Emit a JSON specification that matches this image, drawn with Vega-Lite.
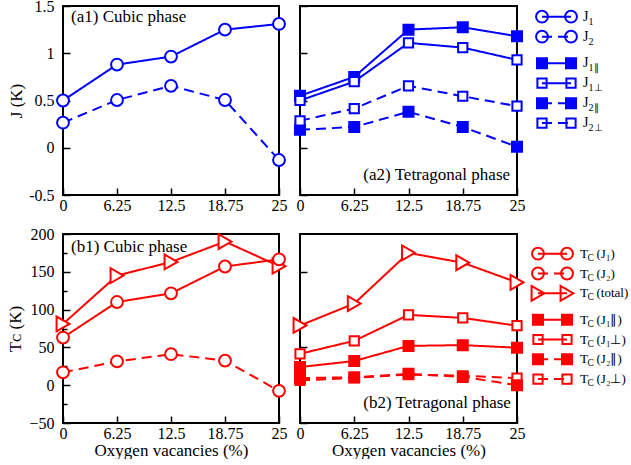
{
"$schema": "https://vega.github.io/schema/vega-lite/v6.json",
"background": "white",
"padding": {"left": 5, "top": -3, "right": 0, "bottom": 0},
"bounds": "flush",
"columns": 3,
"spacing": {"row": 39, "column": 21},
"config": {
  "view": {"stroke": "black", "strokeWidth": 2},
  "font": "Liberation Serif",
  "axis": {"domain": false, "grid": false, "labelFont": "Liberation Serif", "labelFontSize": 16, "labelColor": "black", "tickColor": "black", "tickWidth": 1.5, "titleFont": "Liberation Serif", "titleFontSize": 17, "titleFontWeight": "normal", "titleColor": "black", "labelOverlap": false, "labelFlush": false}
},
"datasets": {
  "main": [
    {"panel":"a1","series":"J1","x":0,"y":0.5},{"panel":"a1","series":"J1","x":6.25,"y":0.88},{"panel":"a1","series":"J1","x":12.5,"y":0.965},{"panel":"a1","series":"J1","x":18.75,"y":1.25},{"panel":"a1","series":"J1","x":25,"y":1.31},
    {"panel":"a1","series":"J2","x":0,"y":0.265},{"panel":"a1","series":"J2","x":6.25,"y":0.505},{"panel":"a1","series":"J2","x":12.5,"y":0.655},{"panel":"a1","series":"J2","x":18.75,"y":0.505},{"panel":"a1","series":"J2","x":25,"y":-0.13},
    {"panel":"a2","series":"J1par","x":0,"y":0.55},{"panel":"a2","series":"J1par","x":6.25,"y":0.75},{"panel":"a2","series":"J1par","x":12.5,"y":1.25},{"panel":"a2","series":"J1par","x":18.75,"y":1.275},{"panel":"a2","series":"J1par","x":25,"y":1.18},
    {"panel":"a2","series":"J1perp","x":0,"y":0.5},{"panel":"a2","series":"J1perp","x":6.25,"y":0.7},{"panel":"a2","series":"J1perp","x":12.5,"y":1.11},{"panel":"a2","series":"J1perp","x":18.75,"y":1.06},{"panel":"a2","series":"J1perp","x":25,"y":0.93},
    {"panel":"a2","series":"J2par","x":0,"y":0.19},{"panel":"a2","series":"J2par","x":6.25,"y":0.22},{"panel":"a2","series":"J2par","x":12.5,"y":0.38},{"panel":"a2","series":"J2par","x":18.75,"y":0.22},{"panel":"a2","series":"J2par","x":25,"y":0.01},
    {"panel":"a2","series":"J2perp","x":0,"y":0.285},{"panel":"a2","series":"J2perp","x":6.25,"y":0.415},{"panel":"a2","series":"J2perp","x":12.5,"y":0.655},{"panel":"a2","series":"J2perp","x":18.75,"y":0.545},{"panel":"a2","series":"J2perp","x":25,"y":0.44},
    {"panel":"b1","series":"Tctot","x":0,"y":81},{"panel":"b1","series":"Tctot","x":6.25,"y":145},{"panel":"b1","series":"Tctot","x":12.5,"y":163},{"panel":"b1","series":"Tctot","x":18.75,"y":190},{"panel":"b1","series":"Tctot","x":25,"y":157.5},
    {"panel":"b1","series":"TcJ1","x":0,"y":63},{"panel":"b1","series":"TcJ1","x":6.25,"y":110},{"panel":"b1","series":"TcJ1","x":12.5,"y":121.5},{"panel":"b1","series":"TcJ1","x":18.75,"y":157},{"panel":"b1","series":"TcJ1","x":25,"y":166.5},
    {"panel":"b1","series":"TcJ2","x":0,"y":17},{"panel":"b1","series":"TcJ2","x":6.25,"y":31.5},{"panel":"b1","series":"TcJ2","x":12.5,"y":41},{"panel":"b1","series":"TcJ2","x":18.75,"y":32.5},{"panel":"b1","series":"TcJ2","x":25,"y":-7.5},
    {"panel":"b2","series":"Tctot","x":0,"y":79},{"panel":"b2","series":"Tctot","x":6.25,"y":108},{"panel":"b2","series":"Tctot","x":12.5,"y":175},{"panel":"b2","series":"Tctot","x":18.75,"y":162},{"panel":"b2","series":"Tctot","x":25,"y":136},
    {"panel":"b2","series":"TcJ1perp","x":0,"y":41.5},{"panel":"b2","series":"TcJ1perp","x":6.25,"y":58.7},{"panel":"b2","series":"TcJ1perp","x":12.5,"y":93},{"panel":"b2","series":"TcJ1perp","x":18.75,"y":89},{"panel":"b2","series":"TcJ1perp","x":25,"y":78.7},
    {"panel":"b2","series":"TcJ1par","x":0,"y":24},{"panel":"b2","series":"TcJ1par","x":6.25,"y":32},{"panel":"b2","series":"TcJ1par","x":12.5,"y":52},{"panel":"b2","series":"TcJ1par","x":18.75,"y":53},{"panel":"b2","series":"TcJ1par","x":25,"y":49.6},
    {"panel":"b2","series":"TcJ2perp","x":0,"y":6.4},{"panel":"b2","series":"TcJ2perp","x":6.25,"y":9.7},{"panel":"b2","series":"TcJ2perp","x":12.5,"y":14},{"panel":"b2","series":"TcJ2perp","x":18.75,"y":12.5},{"panel":"b2","series":"TcJ2perp","x":25,"y":9.5},
    {"panel":"b2","series":"TcJ2par","x":0,"y":9.5},{"panel":"b2","series":"TcJ2par","x":6.25,"y":10.4},{"panel":"b2","series":"TcJ2par","x":12.5,"y":15},{"panel":"b2","series":"TcJ2par","x":18.75,"y":11},{"panel":"b2","series":"TcJ2par","x":25,"y":0}
  ],
  "legA": [
    {"series":"J1","main":"J","sub":"1"},
    {"series":"J2","main":"J","sub":"2"},
    {"series":"J1par","main":"J","sub":"1∥"},
    {"series":"J1perp","main":"J","sub":"1⊥"},
    {"series":"J2par","main":"J","sub":"2∥"},
    {"series":"J2perp","main":"J","sub":"2⊥"}
  ],
  "legB": [
    {"series":"TcJ1","main":"T","sub":"C","rest":"(J₁)"},
    {"series":"TcJ2","main":"T","sub":"C","rest":"(J₂)"},
    {"series":"Tctot","main":"T","sub":"C","rest":"(total)"},
    {"series":"TcJ1par","main":"T","sub":"C","rest":"(J₁∥)"},
    {"series":"TcJ1perp","main":"T","sub":"C","rest":"(J₁⊥)"},
    {"series":"TcJ2par","main":"T","sub":"C","rest":"(J₂∥)"},
    {"series":"TcJ2perp","main":"T","sub":"C","rest":"(J₂⊥)"}
  ]
},
"concat": [
   {"width": 216, "height": 189,
    "layer": [
     {"data": {"name": "main"}, "transform": [{"filter": "datum.panel === 'a1'"}],
      "mark": {"type": "line", "strokeWidth": 2},
      "encoding": {
        "x": {"field": "x", "type": "quantitative", "scale": {"domain": [0, 25], "nice": false, "zero": false},
              "axis": {"values": [0,3.125,6.25,9.375,12.5,15.625,18.75,21.875,25], "labelExpr": "datum.value % 6.25 === 0 ? toString(datum.value) : ''", "labelFontSize": {"condition": {"test": "datum.value % 6.25 !== 0", "value": 0}, "value": 16}, "tickSize": {"condition": {"test": "datum.value % 6.25 !== 0", "value": -4}, "value": -7}, "labelPadding": 9, "labelOverlap": false, "title": null}},
        "y": {"field": "y", "type": "quantitative", "scale": {"domain": [-0.5, 1.5], "nice": false, "zero": false},
              "axis": {"values": [-0.5,-0.25,0,0.25,0.5,0.75,1,1.25,1.5], "labelExpr": "datum.value % 0.5 === 0 ? toString(datum.value) : ''", "labelFontSize": {"condition": {"test": "datum.value % 0.5 !== 0", "value": 0}, "value": 16}, "tickSize": {"condition": {"test": "datum.value % 0.5 !== 0", "value": -4}, "value": -7}, "labelPadding": 16, "labelOverlap": false, "title": "J (K)", "titlePadding": 3.5}},
        "stroke": {"field": "series", "type": "nominal", "legend": null, "scale": {"domain": ["J1","J2","J1par","J1perp","J2par","J2perp","TcJ1","TcJ2","Tctot","TcJ1par","TcJ1perp","TcJ2par","TcJ2perp"], "range": ["#0000ff","#0000ff","#0000ff","#0000ff","#0000ff","#0000ff","#ff0000","#ff0000","#ff0000","#ff0000","#ff0000","#ff0000","#ff0000"]}},
        "strokeDash": {"field": "series", "type": "nominal", "legend": null, "scale": {"domain": ["J1","J2","J1par","J1perp","J2par","J2perp","TcJ1","TcJ2","Tctot","TcJ1par","TcJ1perp","TcJ2par","TcJ2perp"], "range": [[1,0],[10,6],[1,0],[1,0],[10,6],[10,6],[1,0],[10,6],[1,0],[1,0],[1,0],[10,6],[10,6]]}}
      }},
     {"data": {"name": "main"}, "transform": [{"filter": "datum.panel === 'a1'"}],
      "mark": {"type": "point", "strokeWidth": 2, "opacity": 1, "fillOpacity": 1},
      "encoding": {
        "x": {"field": "x", "type": "quantitative"},
        "y": {"field": "y", "type": "quantitative"},
        "stroke": {"field": "series", "type": "nominal", "legend": null, "scale": {"domain": ["J1","J2","J1par","J1perp","J2par","J2perp","TcJ1","TcJ2","Tctot","TcJ1par","TcJ1perp","TcJ2par","TcJ2perp"], "range": ["#0000ff","#0000ff","#0000ff","#0000ff","#0000ff","#0000ff","#ff0000","#ff0000","#ff0000","#ff0000","#ff0000","#ff0000","#ff0000"]}},
        "fill": {"field": "series", "type": "nominal", "legend": null, "scale": {"domain": ["J1","J2","J1par","J1perp","J2par","J2perp","TcJ1","TcJ2","Tctot","TcJ1par","TcJ1perp","TcJ2par","TcJ2perp"], "range": ["white","white","#0000ff","white","#0000ff","white","white","white","white","#ff0000","white","#ff0000","white"]}},
        "shape": {"field": "series", "type": "nominal", "legend": null, "scale": {"domain": ["J1","J2","J1par","J1perp","J2par","J2perp","TcJ1","TcJ2","Tctot","TcJ1par","TcJ1perp","TcJ2par","TcJ2perp"], "range": ["circle","circle","square","square","square","square","circle","circle","triangle-right","square","square","square","square"]}},
        "size": {"field": "series", "type": "nominal", "legend": null, "scale": {"type": "ordinal", "domain": ["J1","J2","J1par","J1perp","J2par","J2perp","TcJ1","TcJ2","Tctot","TcJ1par","TcJ1perp","TcJ2par","TcJ2perp"], "range": [140,140,100,85,100,85,140,140,220,100,85,100,85]}}
      }},
     {"data": {"values": [{"label": "(a1) Cubic phase"}]},
      "mark": {"type": "text", "align": "left", "baseline": "middle", "font": "Liberation Serif", "fontSize": 17, "color": "black"},
      "encoding": {"x": {"datum": 0.93, "type": "quantitative"}, "y": {"datum": 1.387, "type": "quantitative"}, "text": {"field": "label"}}}
    ]},
   {"width": 217, "height": 189,
    "layer": [
     {"data": {"name": "main"}, "transform": [{"filter": "datum.panel === 'a2'"}],
      "mark": {"type": "line", "strokeWidth": 2},
      "encoding": {
        "x": {"field": "x", "type": "quantitative", "scale": {"domain": [0, 25], "nice": false, "zero": false},
              "axis": {"values": [0,3.125,6.25,9.375,12.5,15.625,18.75,21.875,25], "labelExpr": "datum.value % 6.25 === 0 ? toString(datum.value) : ''", "labelFontSize": {"condition": {"test": "datum.value % 6.25 !== 0", "value": 0}, "value": 16}, "tickSize": {"condition": {"test": "datum.value % 6.25 !== 0", "value": -4}, "value": -7}, "labelPadding": 9, "labelOverlap": false, "title": null}},
        "y": {"field": "y", "type": "quantitative", "scale": {"domain": [-0.5, 1.5], "nice": false, "zero": false},
              "axis": {"values": [-0.5,-0.25,0,0.25,0.5,0.75,1,1.25,1.5], "labels": false, "tickSize": {"condition": {"test": "datum.value % 0.5 !== 0", "value": -4}, "value": -7}, "title": null}},
        "stroke": {"field": "series", "type": "nominal", "legend": null, "scale": {"domain": ["J1","J2","J1par","J1perp","J2par","J2perp","TcJ1","TcJ2","Tctot","TcJ1par","TcJ1perp","TcJ2par","TcJ2perp"], "range": ["#0000ff","#0000ff","#0000ff","#0000ff","#0000ff","#0000ff","#ff0000","#ff0000","#ff0000","#ff0000","#ff0000","#ff0000","#ff0000"]}},
        "strokeDash": {"field": "series", "type": "nominal", "legend": null, "scale": {"domain": ["J1","J2","J1par","J1perp","J2par","J2perp","TcJ1","TcJ2","Tctot","TcJ1par","TcJ1perp","TcJ2par","TcJ2perp"], "range": [[1,0],[10,6],[1,0],[1,0],[10,6],[10,6],[1,0],[10,6],[1,0],[1,0],[1,0],[10,6],[10,6]]}}
      }},
     {"data": {"name": "main"}, "transform": [{"filter": "datum.panel === 'a2'"}],
      "mark": {"type": "point", "strokeWidth": 2, "opacity": 1, "fillOpacity": 1},
      "encoding": {
        "x": {"field": "x", "type": "quantitative"},
        "y": {"field": "y", "type": "quantitative"},
        "stroke": {"field": "series", "type": "nominal", "legend": null, "scale": {"domain": ["J1","J2","J1par","J1perp","J2par","J2perp","TcJ1","TcJ2","Tctot","TcJ1par","TcJ1perp","TcJ2par","TcJ2perp"], "range": ["#0000ff","#0000ff","#0000ff","#0000ff","#0000ff","#0000ff","#ff0000","#ff0000","#ff0000","#ff0000","#ff0000","#ff0000","#ff0000"]}},
        "fill": {"field": "series", "type": "nominal", "legend": null, "scale": {"domain": ["J1","J2","J1par","J1perp","J2par","J2perp","TcJ1","TcJ2","Tctot","TcJ1par","TcJ1perp","TcJ2par","TcJ2perp"], "range": ["white","white","#0000ff","white","#0000ff","white","white","white","white","#ff0000","white","#ff0000","white"]}},
        "shape": {"field": "series", "type": "nominal", "legend": null, "scale": {"domain": ["J1","J2","J1par","J1perp","J2par","J2perp","TcJ1","TcJ2","Tctot","TcJ1par","TcJ1perp","TcJ2par","TcJ2perp"], "range": ["circle","circle","square","square","square","square","circle","circle","triangle-right","square","square","square","square"]}},
        "size": {"field": "series", "type": "nominal", "legend": null, "scale": {"type": "ordinal", "domain": ["J1","J2","J1par","J1perp","J2par","J2perp","TcJ1","TcJ2","Tctot","TcJ1par","TcJ1perp","TcJ2par","TcJ2perp"], "range": [140,140,100,85,100,85,140,140,220,100,85,100,85]}}
      }},
     {"data": {"values": [{"label": "(a2) Tetragonal phase"}]},
      "mark": {"type": "text", "align": "right", "baseline": "middle", "font": "Liberation Serif", "fontSize": 17, "color": "black"},
      "encoding": {"x": {"datum": 24.2, "type": "quantitative"}, "y": {"datum": -0.288, "type": "quantitative"}, "text": {"field": "label"}}}
    ]},
  {"width": 40, "height": 189, "view": {"stroke": null},
   "data": {"name": "legA"},
   "encoding": {"y": {"field": "series", "type": "nominal", "axis": null, "scale": {"type": "point", "padding": 0, "range": [10.7, 117.1], "domain": ["J1","sa1","sa2","J2","sa3","sa4","sa5","J1par","sa6","sa7","J1perp","sa8","sa9","J2par","sa10","sa11","J2perp"]}}},
   "layer": [
    {"mark": {"type": "point", "strokeWidth": 2, "opacity": 1, "fillOpacity": 1},
     "encoding": {
       "x": {"datum": 0, "type": "quantitative", "scale": {"domain": [0, 1], "range": [4, 33], "nice": false, "zero": false}, "axis": null},
       "stroke": {"field": "series", "type": "nominal", "legend": null, "scale": {"domain": ["J1","J2","J1par","J1perp","J2par","J2perp","TcJ1","TcJ2","Tctot","TcJ1par","TcJ1perp","TcJ2par","TcJ2perp"], "range": ["#0000ff","#0000ff","#0000ff","#0000ff","#0000ff","#0000ff","#ff0000","#ff0000","#ff0000","#ff0000","#ff0000","#ff0000","#ff0000"]}},
       "fill": {"field": "series", "type": "nominal", "legend": null, "scale": {"domain": ["J1","J2","J1par","J1perp","J2par","J2perp","TcJ1","TcJ2","Tctot","TcJ1par","TcJ1perp","TcJ2par","TcJ2perp"], "range": ["white","white","#0000ff","white","#0000ff","white","white","white","white","#ff0000","white","#ff0000","white"]}},
       "shape": {"field": "series", "type": "nominal", "legend": null, "scale": {"domain": ["J1","J2","J1par","J1perp","J2par","J2perp","TcJ1","TcJ2","Tctot","TcJ1par","TcJ1perp","TcJ2par","TcJ2perp"], "range": ["circle","circle","square","square","square","square","circle","circle","triangle-right","square","square","square","square"]}},
       "size": {"field": "series", "type": "nominal", "legend": null, "scale": {"type": "ordinal", "domain": ["J1","J2","J1par","J1perp","J2par","J2perp","TcJ1","TcJ2","Tctot","TcJ1par","TcJ1perp","TcJ2par","TcJ2perp"], "range": [140,140,100,85,100,85,140,140,220,100,85,100,85]}}
     }},
    {"mark": {"type": "point", "strokeWidth": 2, "opacity": 1, "fillOpacity": 1},
     "encoding": {
       "x": {"datum": 1, "type": "quantitative"},
       "stroke": {"field": "series", "type": "nominal", "legend": null, "scale": {"domain": ["J1","J2","J1par","J1perp","J2par","J2perp","TcJ1","TcJ2","Tctot","TcJ1par","TcJ1perp","TcJ2par","TcJ2perp"], "range": ["#0000ff","#0000ff","#0000ff","#0000ff","#0000ff","#0000ff","#ff0000","#ff0000","#ff0000","#ff0000","#ff0000","#ff0000","#ff0000"]}},
       "fill": {"field": "series", "type": "nominal", "legend": null, "scale": {"domain": ["J1","J2","J1par","J1perp","J2par","J2perp","TcJ1","TcJ2","Tctot","TcJ1par","TcJ1perp","TcJ2par","TcJ2perp"], "range": ["white","white","#0000ff","white","#0000ff","white","white","white","white","#ff0000","white","#ff0000","white"]}},
       "shape": {"field": "series", "type": "nominal", "legend": null, "scale": {"domain": ["J1","J2","J1par","J1perp","J2par","J2perp","TcJ1","TcJ2","Tctot","TcJ1par","TcJ1perp","TcJ2par","TcJ2perp"], "range": ["circle","circle","square","square","square","square","circle","circle","triangle-right","square","square","square","square"]}},
       "size": {"field": "series", "type": "nominal", "legend": null, "scale": {"type": "ordinal", "domain": ["J1","J2","J1par","J1perp","J2par","J2perp","TcJ1","TcJ2","Tctot","TcJ1par","TcJ1perp","TcJ2par","TcJ2perp"], "range": [140,140,100,85,100,85,140,140,220,100,85,100,85]}}
     }},
    {"mark": {"type": "rule", "strokeWidth": 2},
     "encoding": {
       "x": {"datum": 0, "type": "quantitative"}, "x2": {"datum": 1},
       "stroke": {"field": "series", "type": "nominal", "legend": null, "scale": {"domain": ["J1","J2","J1par","J1perp","J2par","J2perp","TcJ1","TcJ2","Tctot","TcJ1par","TcJ1perp","TcJ2par","TcJ2perp"], "range": ["#0000ff","#0000ff","#0000ff","#0000ff","#0000ff","#0000ff","#ff0000","#ff0000","#ff0000","#ff0000","#ff0000","#ff0000","#ff0000"]}},
       "strokeDash": {"field": "series", "type": "nominal", "legend": null, "scale": {"domain": ["J1","J2","J1par","J1perp","J2par","J2perp","TcJ1","TcJ2","Tctot","TcJ1par","TcJ1perp","TcJ2par","TcJ2perp"], "range": [[1,0],[10,6],[1,0],[1,0],[10,6],[10,6],[1,0],[10,6],[1,0],[1,0],[1,0],[10,6],[10,6]]}}
     }},
    {"mark": {"type": "text", "align": "left", "baseline": "middle", "dx": 12, "font": "Liberation Serif", "fontSize": 14, "color": "black"},
     "encoding": {"x": {"datum": 1, "type": "quantitative"}, "text": {"field": "main"}}},
    {"mark": {"type": "text", "align": "left", "baseline": "middle", "dx": 17.5, "dy": 5, "font": "Liberation Serif", "fontSize": 10, "color": "black"},
     "encoding": {"x": {"datum": 1, "type": "quantitative"}, "text": {"field": "sub"}}}
   ]},
   {"width": 216, "height": 189,
    "resolve": {"axis": {"y": "independent"}},
    "layer": [
     {"data": {"name": "main"}, "transform": [{"filter": "datum.panel === 'b1'"}],
      "mark": {"type": "line", "strokeWidth": 2},
      "encoding": {
        "x": {"field": "x", "type": "quantitative", "scale": {"domain": [0, 25], "nice": false, "zero": false},
              "axis": {"values": [0,3.125,6.25,9.375,12.5,15.625,18.75,21.875,25], "labelExpr": "datum.value % 6.25 === 0 ? toString(datum.value) : ''", "labelFontSize": {"condition": {"test": "datum.value % 6.25 !== 0", "value": 0}, "value": 16}, "tickSize": {"condition": {"test": "datum.value % 6.25 !== 0", "value": -4}, "value": -7}, "labelPadding": 9, "labelOverlap": false, "title": "Oxygen vacancies (%)", "titlePadding": 1}},
        "y": {"field": "y", "type": "quantitative", "scale": {"domain": [-50, 200], "nice": false, "zero": false},
              "axis": {"orient": "left", "values": [-50,0,50,100,150,200], "tickSize": -7, "labelPadding": 16, "labelOverlap": false, "title": "Tᴄ (K)", "titlePadding": 4.5}},
        "stroke": {"field": "series", "type": "nominal", "legend": null, "scale": {"domain": ["J1","J2","J1par","J1perp","J2par","J2perp","TcJ1","TcJ2","Tctot","TcJ1par","TcJ1perp","TcJ2par","TcJ2perp"], "range": ["#0000ff","#0000ff","#0000ff","#0000ff","#0000ff","#0000ff","#ff0000","#ff0000","#ff0000","#ff0000","#ff0000","#ff0000","#ff0000"]}},
        "strokeDash": {"field": "series", "type": "nominal", "legend": null, "scale": {"domain": ["J1","J2","J1par","J1perp","J2par","J2perp","TcJ1","TcJ2","Tctot","TcJ1par","TcJ1perp","TcJ2par","TcJ2perp"], "range": [[1,0],[10,6],[1,0],[1,0],[10,6],[10,6],[1,0],[10,6],[1,0],[1,0],[1,0],[10,6],[10,6]]}}
      }},
     {"data": {"name": "main"}, "transform": [{"filter": "datum.panel === 'b1'"}],
      "mark": {"type": "point", "strokeWidth": 2, "opacity": 1, "fillOpacity": 1},
      "encoding": {
        "x": {"field": "x", "type": "quantitative"},
        "y": {"field": "y", "type": "quantitative", "axis": {"orient": "left", "values": [-25,25,75,125,175], "labels": false, "tickSize": -4, "title": null}},
        "stroke": {"field": "series", "type": "nominal", "legend": null, "scale": {"domain": ["J1","J2","J1par","J1perp","J2par","J2perp","TcJ1","TcJ2","Tctot","TcJ1par","TcJ1perp","TcJ2par","TcJ2perp"], "range": ["#0000ff","#0000ff","#0000ff","#0000ff","#0000ff","#0000ff","#ff0000","#ff0000","#ff0000","#ff0000","#ff0000","#ff0000","#ff0000"]}},
        "fill": {"field": "series", "type": "nominal", "legend": null, "scale": {"domain": ["J1","J2","J1par","J1perp","J2par","J2perp","TcJ1","TcJ2","Tctot","TcJ1par","TcJ1perp","TcJ2par","TcJ2perp"], "range": ["white","white","#0000ff","white","#0000ff","white","white","white","white","#ff0000","white","#ff0000","white"]}},
        "shape": {"field": "series", "type": "nominal", "legend": null, "scale": {"domain": ["J1","J2","J1par","J1perp","J2par","J2perp","TcJ1","TcJ2","Tctot","TcJ1par","TcJ1perp","TcJ2par","TcJ2perp"], "range": ["circle","circle","square","square","square","square","circle","circle","triangle-right","square","square","square","square"]}},
        "size": {"field": "series", "type": "nominal", "legend": null, "scale": {"type": "ordinal", "domain": ["J1","J2","J1par","J1perp","J2par","J2perp","TcJ1","TcJ2","Tctot","TcJ1par","TcJ1perp","TcJ2par","TcJ2perp"], "range": [140,140,100,85,100,85,140,140,220,100,85,100,85]}}
      }},
     {"data": {"values": [{"label": "(b1) Cubic phase"}]},
      "mark": {"type": "text", "align": "left", "baseline": "middle", "font": "Liberation Serif", "fontSize": 17, "color": "black"},
      "encoding": {"x": {"datum": 0.93, "type": "quantitative"}, "y": {"datum": 182.8, "type": "quantitative", "axis": null}, "text": {"field": "label"}}}
    ]},
   {"width": 217, "height": 189,
    "layer": [
     {"data": {"name": "main"}, "transform": [{"filter": "datum.panel === 'b2'"}],
      "mark": {"type": "line", "strokeWidth": 2},
      "encoding": {
        "x": {"field": "x", "type": "quantitative", "scale": {"domain": [0, 25], "nice": false, "zero": false},
              "axis": {"values": [0,3.125,6.25,9.375,12.5,15.625,18.75,21.875,25], "labelExpr": "datum.value % 6.25 === 0 ? toString(datum.value) : ''", "labelFontSize": {"condition": {"test": "datum.value % 6.25 !== 0", "value": 0}, "value": 16}, "tickSize": {"condition": {"test": "datum.value % 6.25 !== 0", "value": -4}, "value": -7}, "labelPadding": 9, "labelOverlap": false, "title": "Oxygen vacancies (%)", "titlePadding": 1}},
        "y": {"field": "y", "type": "quantitative", "scale": {"domain": [-50, 200], "nice": false, "zero": false},
              "axis": {"values": [-50,-25,0,25,50,75,100,125,150,175,200], "labels": false, "tickSize": {"condition": {"test": "datum.value % 50 !== 0", "value": -4}, "value": -7}, "title": null}},
        "stroke": {"field": "series", "type": "nominal", "legend": null, "scale": {"domain": ["J1","J2","J1par","J1perp","J2par","J2perp","TcJ1","TcJ2","Tctot","TcJ1par","TcJ1perp","TcJ2par","TcJ2perp"], "range": ["#0000ff","#0000ff","#0000ff","#0000ff","#0000ff","#0000ff","#ff0000","#ff0000","#ff0000","#ff0000","#ff0000","#ff0000","#ff0000"]}},
        "strokeDash": {"field": "series", "type": "nominal", "legend": null, "scale": {"domain": ["J1","J2","J1par","J1perp","J2par","J2perp","TcJ1","TcJ2","Tctot","TcJ1par","TcJ1perp","TcJ2par","TcJ2perp"], "range": [[1,0],[10,6],[1,0],[1,0],[10,6],[10,6],[1,0],[10,6],[1,0],[1,0],[1,0],[10,6],[10,6]]}}
      }},
     {"data": {"name": "main"}, "transform": [{"filter": "datum.panel === 'b2'"}],
      "mark": {"type": "point", "strokeWidth": 2, "opacity": 1, "fillOpacity": 1},
      "encoding": {
        "x": {"field": "x", "type": "quantitative"},
        "y": {"field": "y", "type": "quantitative"},
        "stroke": {"field": "series", "type": "nominal", "legend": null, "scale": {"domain": ["J1","J2","J1par","J1perp","J2par","J2perp","TcJ1","TcJ2","Tctot","TcJ1par","TcJ1perp","TcJ2par","TcJ2perp"], "range": ["#0000ff","#0000ff","#0000ff","#0000ff","#0000ff","#0000ff","#ff0000","#ff0000","#ff0000","#ff0000","#ff0000","#ff0000","#ff0000"]}},
        "fill": {"field": "series", "type": "nominal", "legend": null, "scale": {"domain": ["J1","J2","J1par","J1perp","J2par","J2perp","TcJ1","TcJ2","Tctot","TcJ1par","TcJ1perp","TcJ2par","TcJ2perp"], "range": ["white","white","#0000ff","white","#0000ff","white","white","white","white","#ff0000","white","#ff0000","white"]}},
        "shape": {"field": "series", "type": "nominal", "legend": null, "scale": {"domain": ["J1","J2","J1par","J1perp","J2par","J2perp","TcJ1","TcJ2","Tctot","TcJ1par","TcJ1perp","TcJ2par","TcJ2perp"], "range": ["circle","circle","square","square","square","square","circle","circle","triangle-right","square","square","square","square"]}},
        "size": {"field": "series", "type": "nominal", "legend": null, "scale": {"type": "ordinal", "domain": ["J1","J2","J1par","J1perp","J2par","J2perp","TcJ1","TcJ2","Tctot","TcJ1par","TcJ1perp","TcJ2par","TcJ2perp"], "range": [140,140,100,85,100,85,140,140,220,100,85,100,85]}}
      }},
     {"data": {"values": [{"label": "(b2) Tetragonal phase"}]},
      "mark": {"type": "text", "align": "right", "baseline": "middle", "font": "Liberation Serif", "fontSize": 17, "color": "black"},
      "encoding": {"x": {"datum": 24.3, "type": "quantitative"}, "y": {"datum": -23, "type": "quantitative"}, "text": {"field": "label"}}}
    ]},
  {"width": 40, "height": 189, "view": {"stroke": null},
   "data": {"name": "legB"},
   "encoding": {"y": {"field": "series", "type": "nominal", "axis": null, "scale": {"type": "point", "padding": 0, "range": [19.7, 145.1], "domain": ["TcJ1","sb1","sb2","TcJ2","sb3","sb4","Tctot","sb5","sb6","sb7","TcJ1par","sb8","sb9","TcJ1perp","sb10","sb11","TcJ2par","sb12","sb13","TcJ2perp"]}}},
   "layer": [
    {"mark": {"type": "point", "strokeWidth": 2, "opacity": 1, "fillOpacity": 1},
     "encoding": {
       "x": {"datum": 0, "type": "quantitative", "scale": {"domain": [0, 1], "range": [0, 29], "nice": false, "zero": false}, "axis": null},
       "stroke": {"field": "series", "type": "nominal", "legend": null, "scale": {"domain": ["J1","J2","J1par","J1perp","J2par","J2perp","TcJ1","TcJ2","Tctot","TcJ1par","TcJ1perp","TcJ2par","TcJ2perp"], "range": ["#0000ff","#0000ff","#0000ff","#0000ff","#0000ff","#0000ff","#ff0000","#ff0000","#ff0000","#ff0000","#ff0000","#ff0000","#ff0000"]}},
       "fill": {"field": "series", "type": "nominal", "legend": null, "scale": {"domain": ["J1","J2","J1par","J1perp","J2par","J2perp","TcJ1","TcJ2","Tctot","TcJ1par","TcJ1perp","TcJ2par","TcJ2perp"], "range": ["white","white","#0000ff","white","#0000ff","white","white","white","white","#ff0000","white","#ff0000","white"]}},
       "shape": {"field": "series", "type": "nominal", "legend": null, "scale": {"domain": ["J1","J2","J1par","J1perp","J2par","J2perp","TcJ1","TcJ2","Tctot","TcJ1par","TcJ1perp","TcJ2par","TcJ2perp"], "range": ["circle","circle","square","square","square","square","circle","circle","triangle-right","square","square","square","square"]}},
       "size": {"field": "series", "type": "nominal", "legend": null, "scale": {"type": "ordinal", "domain": ["J1","J2","J1par","J1perp","J2par","J2perp","TcJ1","TcJ2","Tctot","TcJ1par","TcJ1perp","TcJ2par","TcJ2perp"], "range": [140,140,100,85,100,85,140,140,220,100,85,100,85]}}
     }},
    {"mark": {"type": "point", "strokeWidth": 2, "opacity": 1, "fillOpacity": 1},
     "encoding": {
       "x": {"datum": 1, "type": "quantitative"},
       "stroke": {"field": "series", "type": "nominal", "legend": null, "scale": {"domain": ["J1","J2","J1par","J1perp","J2par","J2perp","TcJ1","TcJ2","Tctot","TcJ1par","TcJ1perp","TcJ2par","TcJ2perp"], "range": ["#0000ff","#0000ff","#0000ff","#0000ff","#0000ff","#0000ff","#ff0000","#ff0000","#ff0000","#ff0000","#ff0000","#ff0000","#ff0000"]}},
       "fill": {"field": "series", "type": "nominal", "legend": null, "scale": {"domain": ["J1","J2","J1par","J1perp","J2par","J2perp","TcJ1","TcJ2","Tctot","TcJ1par","TcJ1perp","TcJ2par","TcJ2perp"], "range": ["white","white","#0000ff","white","#0000ff","white","white","white","white","#ff0000","white","#ff0000","white"]}},
       "shape": {"field": "series", "type": "nominal", "legend": null, "scale": {"domain": ["J1","J2","J1par","J1perp","J2par","J2perp","TcJ1","TcJ2","Tctot","TcJ1par","TcJ1perp","TcJ2par","TcJ2perp"], "range": ["circle","circle","square","square","square","square","circle","circle","triangle-right","square","square","square","square"]}},
       "size": {"field": "series", "type": "nominal", "legend": null, "scale": {"type": "ordinal", "domain": ["J1","J2","J1par","J1perp","J2par","J2perp","TcJ1","TcJ2","Tctot","TcJ1par","TcJ1perp","TcJ2par","TcJ2perp"], "range": [140,140,100,85,100,85,140,140,220,100,85,100,85]}}
     }},
    {"mark": {"type": "rule", "strokeWidth": 2},
     "encoding": {
       "x": {"datum": 0, "type": "quantitative"}, "x2": {"datum": 1},
       "stroke": {"field": "series", "type": "nominal", "legend": null, "scale": {"domain": ["J1","J2","J1par","J1perp","J2par","J2perp","TcJ1","TcJ2","Tctot","TcJ1par","TcJ1perp","TcJ2par","TcJ2perp"], "range": ["#0000ff","#0000ff","#0000ff","#0000ff","#0000ff","#0000ff","#ff0000","#ff0000","#ff0000","#ff0000","#ff0000","#ff0000","#ff0000"]}},
       "strokeDash": {"field": "series", "type": "nominal", "legend": null, "scale": {"domain": ["J1","J2","J1par","J1perp","J2par","J2perp","TcJ1","TcJ2","Tctot","TcJ1par","TcJ1perp","TcJ2par","TcJ2perp"], "range": [[1,0],[10,6],[1,0],[1,0],[10,6],[10,6],[1,0],[10,6],[1,0],[1,0],[1,0],[10,6],[10,6]]}}
     }},
    {"mark": {"type": "text", "align": "left", "baseline": "middle", "dx": 13, "font": "Liberation Serif", "fontSize": 13.5, "color": "black"},
     "encoding": {"x": {"datum": 1, "type": "quantitative"}, "text": {"field": "main"}}},
    {"mark": {"type": "text", "align": "left", "baseline": "middle", "dx": 20.5, "dy": 4, "font": "Liberation Serif", "fontSize": 9.5, "color": "black"},
     "encoding": {"x": {"datum": 1, "type": "quantitative"}, "text": {"field": "sub"}}},
    {"mark": {"type": "text", "align": "left", "baseline": "middle", "dx": 29.5, "font": "Liberation Serif", "fontSize": 13, "color": "black"},
     "encoding": {"x": {"datum": 1, "type": "quantitative"}, "text": {"field": "rest"}}}
   ]}
]
}
